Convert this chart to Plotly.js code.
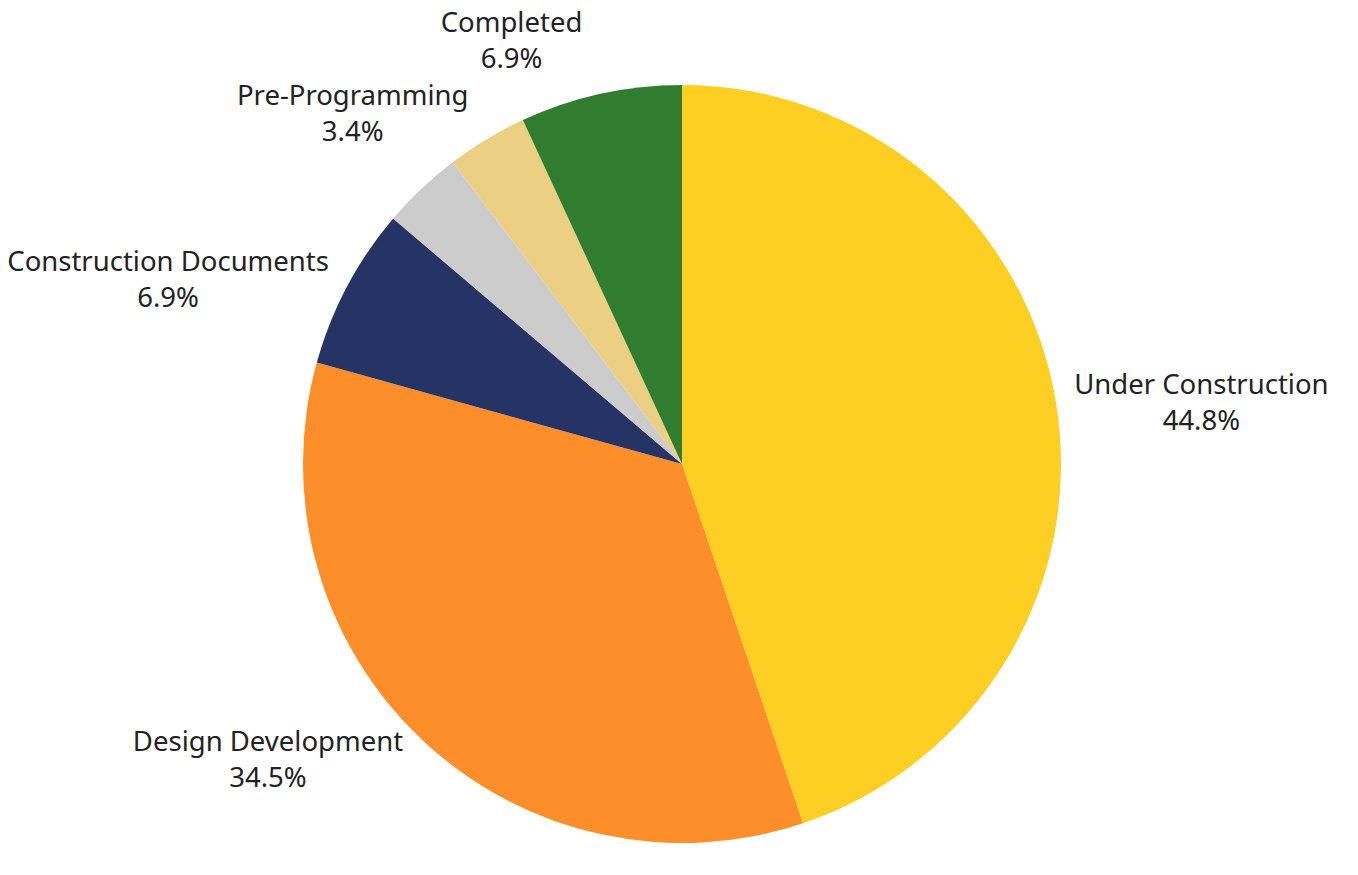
<!DOCTYPE html>
<html>
<head>
<meta charset="utf-8">
<script src="https://cdn.plot.ly/plotly-3.0.1.min.js"></script>
<style>html,body{margin:0;padding:0;background:#fff;}#chart{width:1358px;height:875px;}
path.textline{stroke-opacity:0 !important;}</style>
</head>
<body>
<div id="chart"></div>
<script>
const categories = ["Under Construction", "Design Development", "Construction Documents", "Other", "Pre-Programming", "Completed"];
const counts = [13, 10, 2, 1, 1, 2];
const colors = ["#FCCF22", "#FD8E2A", "#253465", "#CCCCCC", "#EBCF82", "#307D2F"];
const showLabel = [true, true, true, false, true, true];

const templates = showLabel.map(s => s ? "%{label}<br>%{percent:.1%}" : "");

Plotly.newPlot("chart", [{
  type: "pie",
  labels: categories,
  values: counts,
  sort: false,
  direction: "clockwise",
  rotation: 0,
  marker: {colors: colors, line: {width: 0}},
  texttemplate: templates,
  textposition: "outside",
  outsidetextfont: {family: "Noto Sans, sans-serif", size: 27.5, color: "#222222"},
  hoverinfo: "label+percent",
  domain: {x: [0.2231, 0.7813], y: [0.0366, 0.9029]},
  showlegend: false
}], {
  width: 1358,
  height: 875,
  margin: {l: 0, r: 0, t: 0, b: 0},
  paper_bgcolor: "#ffffff",
  showlegend: false
}, {displayModeBar: false, staticPlot: true});
</script>
</body>
</html>
